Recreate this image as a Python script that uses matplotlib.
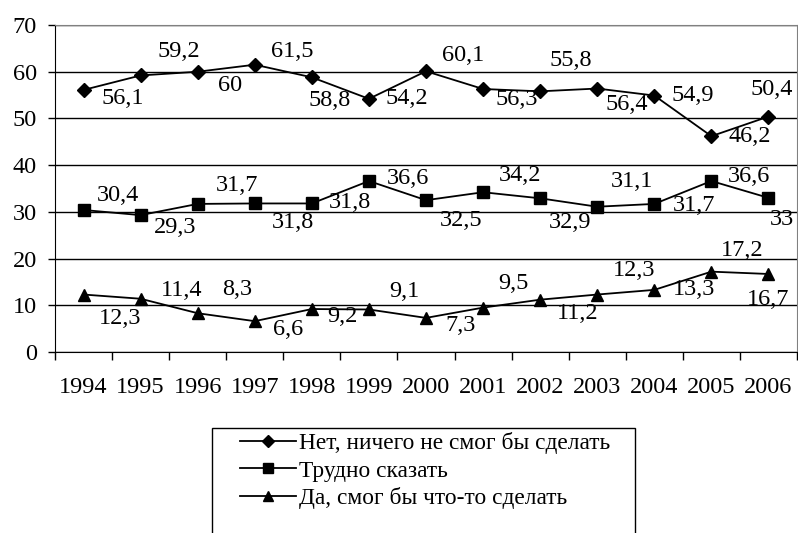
import matplotlib.pyplot as plt
from matplotlib.patches import Rectangle
from matplotlib.ticker import FixedLocator, NullFormatter

plt.rcParams['font.family'] = ['Liberation Serif', 'DejaVu Serif']

years = ['1994', '1995', '1996', '1997', '1998', '1999', '2000',
         '2001', '2002', '2003', '2004', '2005', '2006']
nothing = [56.1, 59.2, 60, 61.5, 58.8, 54.2, 60.1, 56.3, 55.8, 56.4, 54.9, 46.2, 50.4]
hard_to_say = [30.4, 29.3, 31.7, 31.8, 31.8, 36.6, 32.5, 34.2, 32.9, 31.1, 31.7, 36.6, 33]
could_do = [12.3, 11.4, 8.3, 6.6, 9.2, 9.1, 7.3, 9.5, 11.2, 12.3, 13.3, 17.2, 16.7]
names = ['Нет, ничего не смог бы сделать', 'Трудно сказать', 'Да, смог бы что-то сделать']

# label offsets in pixels (dx right, dy up), as Excel put them
off1 = [(39, -9), (38, 24), (32, -14), (37, 13), (18, -23), (38, 0), (37, 16),
        (34, -11), (31, 31), (30, -16), (38, 0), (38, 0), (3, 27)]
off2 = [(34, 14), (35, -12), (39, 18), (38, -19), (38, 1), (39, 3), (35, -20),
        (37, 17), (30, -24), (35, 25), (40, -2), (38, 5), (13, -22)]
off3 = [(37, -24), (41, 8), (39, 24), (33, -8), (31, -7), (35, 18), (35, -8),
        (30, 24), (38, -14), (37, 24), (40, 0), (31, 21), (0, -26)]

FS = 17.5
W, H = 798, 533
fig = plt.figure(figsize=(W / 100, H / 100), dpi=100)
ax = fig.add_axes([55 / W, (H - 352) / H, (797 - 55) / W, (352 - 25) / H])

x = list(range(len(years)))
series = [(nothing, 'D', 7.5, off1), (hard_to_say, 's', 8.5, off2), (could_do, '^', 9, off3)]
for (vals, mk, ms, offs), name in zip(series, names):
    ax.plot(x, vals, color='black', lw=1.3, marker=mk, markersize=ms, label=name, zorder=3)
    for xi, v, (dx, dy) in zip(x, vals, offs):
        ax.annotate(f'{v:g}'.replace('.', ','), (xi, v), xytext=(dx, dy),
                    textcoords='offset pixels', ha='center', va='center', fontsize=FS)

ax.set_xlim(-0.5, len(years) - 0.5)
ax.set_ylim(0, 70)
ax.set_yticks(range(0, 71, 10))
ax.yaxis.grid(True, color='black', lw=1)
ax.set_axisbelow(True)
ax.tick_params(axis='y', length=5, width=1, pad=8, labelsize=FS)

ax.xaxis.set_major_locator(FixedLocator([i - 0.5 for i in range(len(years) + 1)]))
ax.xaxis.set_major_formatter(NullFormatter())
ax.set_xticks(x, years, minor=True)
ax.tick_params(axis='x', which='major', length=6, width=1)
ax.tick_params(axis='x', which='minor', length=0, pad=18, labelsize=FS)

for s in ['top', 'right']:
    ax.spines[s].set_color('#808080')
for s in ['left', 'bottom']:
    ax.spines[s].set_color('black')

# legend box runs off the bottom of the picture
fig.patches.append(Rectangle((212 / W, -0.05), (635 - 212) / W, 0.05 + (H - 428) / H,
                             transform=fig.transFigure, fill=False, ec='black', lw=1))
fig.legend(loc='upper left', bbox_to_anchor=(238 / W, 1 - 430 / H), frameon=False,
           fontsize=16.8, handlelength=2.4, handletextpad=0.1, labelspacing=0.25,
           borderaxespad=0, borderpad=0.1, markerscale=0.85)

fig.savefig('out.png', dpi=100)
